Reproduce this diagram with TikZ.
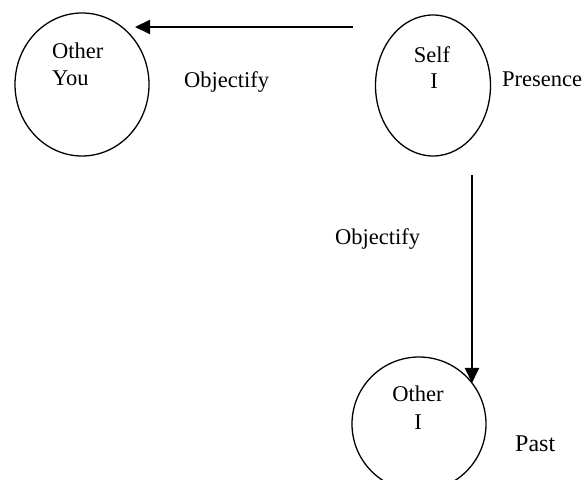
\documentclass[tikz,border=0pt]{standalone}
\usepackage{fontspec}
\setmainfont{Liberation Serif}
\usetikzlibrary{shapes.geometric,arrows.meta}
\begin{document}
\begin{tikzpicture}[x=1pt,y=-1pt,
  bubble/.style={draw,ellipse,line width=1.3pt,inner sep=0pt},
  txt/.style={font=\fontsize{22.5}{27}\selectfont,inner sep=0pt},
  lbl/.style={txt,anchor=base west},
  ctr/.style={txt,anchor=base},
  conn/.style={line width=2pt,-{Triangle[length=15pt,width=14pt]}}]
\fill[white] (0,0) rectangle (587,489);
\useasboundingbox (0,0) rectangle (587,489);
% circles
\node[bubble,minimum width=134pt,minimum height=143pt] (otheryou) at (82,84.5) {};
\node[bubble,minimum width=115pt,minimum height=141pt] (selfi) at (433,85.5) {};
\begin{scope}
  \clip (0,0) rectangle (587,479);
  \node[bubble,minimum width=134pt,minimum height=134pt] (otheri) at (419,424) {};
\end{scope}
% texts in circles
\node[lbl] (t1a) at (52,59) {Other};
\node[lbl] (t1b) at (52,86) {You};
\node[ctr] (t2a) at (432,63) {Self};
\node[ctr] (t2b) at (434,89) {I};
\node[ctr] (t3a) at (418,402) {Other};
\node[ctr] (t3b) at (418,429) {I};
% labels
\node[lbl] (obj1) at (184,88) {Objectify};
\node[lbl] (pres) at (502,87) {Presence};
\node[lbl] (obj2) at (335,245) {Objectify};
\node[lbl,font=\fontsize{24}{28}\selectfont] (past) at (515,451) {Past};
% connectors
\coordinate (h1) at (353,27);
\coordinate (h2) at (135,27);
\coordinate (v1) at (472,175);
\coordinate (v2) at (472,383);
\draw[conn] (h1) -- (h2);
\draw[conn] (v1) -- (v2);
\end{tikzpicture}
\end{document}
